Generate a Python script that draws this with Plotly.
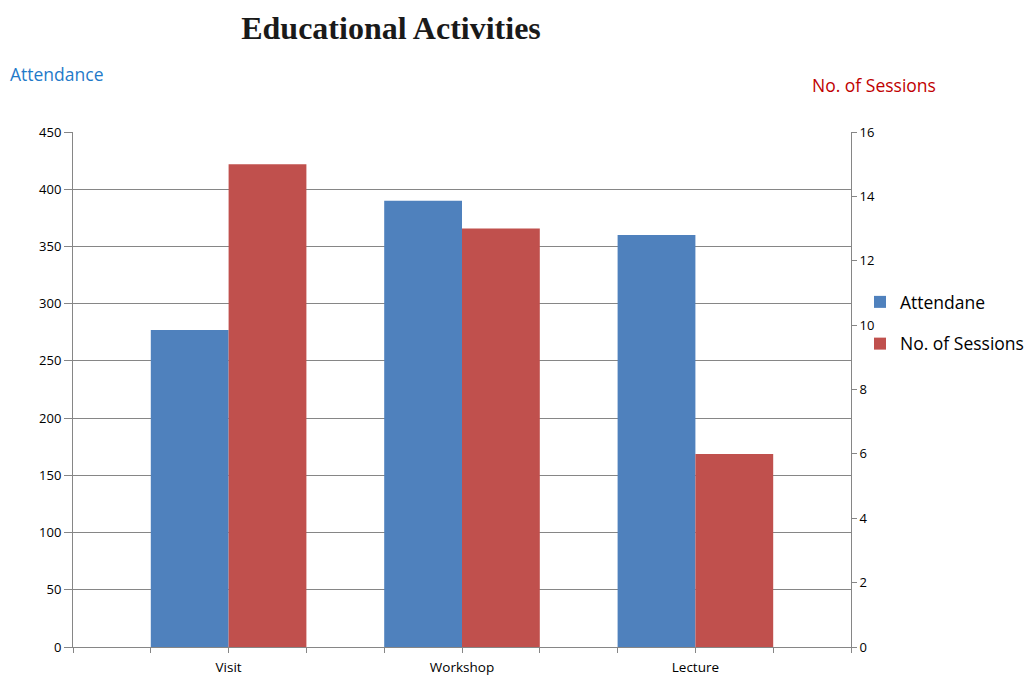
import plotly.graph_objects as go

categories = ["Visit", "Workshop", "Lecture"]
attendance = [277, 390, 360]
sessions = [15, 13, 6]

W, H = 1027, 677
L, R, T, B = 73, 176, 132, 30
PW, PH = W - L - R, H - T - B

xpos = list(range(len(categories)))

fig = go.Figure()
fig.add_trace(go.Bar(x=xpos, y=attendance, name="Attendane",
                     marker=dict(color="#4F81BD", line=dict(width=0)),
                     offsetgroup="1", yaxis="y", legendgroup="a"))
fig.add_trace(go.Bar(x=xpos, y=sessions, name="No. of Sessions",
                     marker=dict(color="#C0504D", line=dict(width=0)),
                     offsetgroup="2", yaxis="y2", legendgroup="b"))

axis_gray = "#868686"
fig.update_layout(
    width=W, height=H,
    margin=dict(l=L, r=R, t=T, b=B, autoexpand=False),
    paper_bgcolor="white", plot_bgcolor="white",
    barmode="group", bargap=1 / 3, bargroupgap=0,
    font=dict(family="Open Sans, Liberation Sans, sans-serif", size=13, color="black"),
    title=dict(text="<b>Educational Activities</b>",
               font=dict(family="Liberation Serif, Times New Roman, serif", size=32, color="#1a1a1a"),
               x=391 / W, xref="container", xanchor="center",
               y=1 - 28 / H, yref="container", yanchor="middle"),
    xaxis=dict(range=[-2 / 3, len(categories) - 1 + 2 / 3],
               tickvals=xpos, ticktext=categories,
               showline=True, linecolor=axis_gray, linewidth=1,
               ticks="outside", ticklen=5, tickcolor=axis_gray,
               minor=dict(tick0=-2 / 3, dtick=1 / 3, ticks="outside", ticklen=5,
                          tickcolor=axis_gray, showgrid=False),
               showgrid=False, zeroline=False, tickfont=dict(size=13.5),
               ticklabelstandoff=3),
    yaxis=dict(range=[0, 450], dtick=50, showline=True, linecolor=axis_gray, linewidth=1,
               ticks="outside", ticklen=8, tickcolor=axis_gray,
               showgrid=True, gridcolor=axis_gray, gridwidth=1, zeroline=False,
               tickfont=dict(size=13)),
    yaxis2=dict(range=[0, 16], dtick=2, overlaying="y", side="right",
                showline=True, linecolor=axis_gray, linewidth=1,
                ticks="outside", ticklen=5, tickcolor=axis_gray,
                showgrid=False, zeroline=False, tickfont=dict(size=13)),
    legend=dict(x=(860 - L) / PW, y=(647 - 284) / PH,
                xanchor="left", yanchor="top", bgcolor="rgba(0,0,0,0)",
                font=dict(size=17.5), itemwidth=30, tracegroupgap=16,
                traceorder="grouped"),
    annotations=[
        dict(text="Attendance", xref="paper", yref="paper",
             x=-(L - 8) / PW, y=(647 - 74) / PH,
             xanchor="left", yanchor="middle", showarrow=False,
             font=dict(size=17.5, color="#1F7AC9")),
        dict(text="No. of Sessions", xref="paper", yref="paper",
             x=(810 - L) / PW, y=(647 - 85) / PH,
             xanchor="left", yanchor="middle", showarrow=False,
             font=dict(size=17.5, color="#C00000")),
    ],
)

fig.write_html("out.html")
